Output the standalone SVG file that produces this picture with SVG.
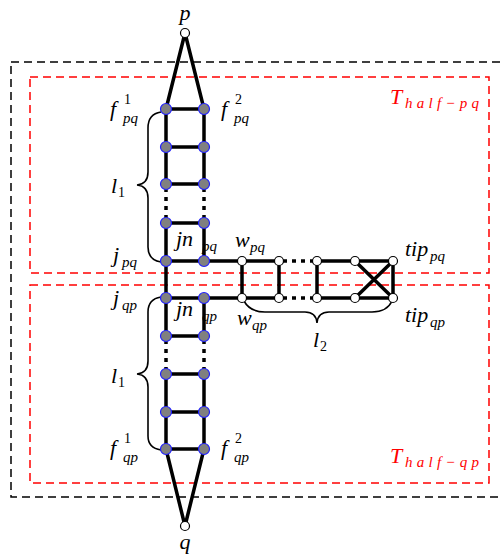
<svg xmlns="http://www.w3.org/2000/svg" width="502" height="559" viewBox="0 0 502 559">
<style>
.t{font-family:"Liberation Serif",serif;font-style:italic;font-size:22px;fill:#000}
.s{font-family:"Liberation Serif",serif;font-style:italic;font-size:15px;fill:#000}
.n{font-family:"Liberation Serif",serif;font-size:14px;fill:#000}
.r{fill:#ff0000}
.e{stroke:#000;stroke-width:3.5;fill:none}
.d{stroke:#000;stroke-width:3.5;fill:none;stroke-dasharray:4 5}
.br{stroke:#000;stroke-width:1.6;fill:none}
.g{fill:#808080;stroke:#2020ff;stroke-width:1.2}
.w{fill:#fff;stroke:#000;stroke-width:1.2}
</style>
<rect x="11" y="62" width="520" height="435" fill="none" stroke="#000" stroke-width="1.5" stroke-dasharray="8 5"/>
<rect x="30" y="77" width="459" height="196" fill="none" stroke="#ff0000" stroke-width="1.5" stroke-dasharray="8 5"/>
<rect x="30" y="285" width="459" height="198" fill="none" stroke="#ff0000" stroke-width="1.5" stroke-dasharray="8 5"/>
<g id="connectors">
<path class="e" d="M185 33 L166 109 M185 33 L204 109 M185 526 L166 449 M185 526 L204 449"/>
<path class="e" d="M166 109 V184 M204 109 V184 M166 223 V261 M204 223 V261"/>
<path class="d" d="M166 188 V221 M204 188 V221"/>
<path class="e" d="M166 109 H204 M166 147 H204 M166 184 H204 M166 223 H204"/>
<path class="e" d="M166 261 V298 M166 298 V336 M204 298 V336 M166 374 V449 M204 374 V449"/>
<path class="d" d="M166 340 V372 M204 340 V372"/>
<path class="e" d="M166 336 H204 M166 374 H204 M166 412 H204 M166 449 H204"/>
<path class="e" d="M166 261 H279 M166 298 H279 M317 261 H393 M317 298 H393"/>
<path class="d" d="M283 261 H315 M283 298 H315"/>
<path class="e" d="M242 261 V298 M279 261 V298 M317 261 V298 M393 261 V298 M355 261 L393 298 M355 298 L393 261"/>
<path class="br" d="M161 112 Q148 114 148 128 L148 172 Q148 184 137 185 Q148 186 148 198 L148 247 Q148 260 161 262"/>
<path class="br" d="M161 297 Q148 299 148 312 L148 361 Q148 373 137 374 Q148 375 148 387 L148 436 Q148 448 161 450"/>
<path class="br" d="M244 301 Q250 312 265 312 L305 312 Q316 312 317 323 Q318 312 329 312 L372 312 Q387 312 392 301"/>
</g>
<g id="p"><circle class="w" cx="185" cy="33" r="4.5"/><text class="t" x="185" y="20" text-anchor="middle">p</text></g>
<g id="q"><circle class="w" cx="185" cy="526" r="4.5"/><text class="t" x="185" y="549" text-anchor="middle">q</text></g>
<g id="f1pq"><circle class="g" cx="166" cy="109" r="5.5"/><text class="t" x="110" y="116">f</text><text class="n" x="124" y="104">1</text><text class="s" x="123" y="123">pq</text></g>
<g id="f2pq"><circle class="g" cx="204" cy="109" r="5.5"/><text class="t" x="221" y="116">f</text><text class="n" x="235" y="104">2</text><text class="s" x="234" y="123">pq</text></g>
<g id="u2"><circle class="g" cx="166" cy="147" r="5.5"/><circle class="g" cx="204" cy="147" r="5.5"/></g>
<g id="u3"><circle class="g" cx="166" cy="184" r="5.5"/><circle class="g" cx="204" cy="184" r="5.5"/></g>
<g id="u4"><circle class="g" cx="166" cy="223" r="5.5"/><circle class="g" cx="204" cy="223" r="5.5"/></g>
<g id="jpq"><circle class="g" cx="166" cy="261" r="5.5"/><text class="t" x="113" y="262">j</text><text class="s" x="122" y="267">pq</text></g>
<g id="jnpq"><circle class="g" cx="204" cy="261" r="5.5"/><text class="t" x="176" y="246">jn</text><text class="s" x="202" y="251">pq</text></g>
<g id="jqp"><circle class="g" cx="166" cy="298" r="5.5"/><text class="t" x="113" y="305">j</text><text class="s" x="122" y="310">qp</text></g>
<g id="jnqp"><circle class="g" cx="204" cy="298" r="5.5"/><text class="t" x="176" y="316">jn</text><text class="s" x="202" y="321">qp</text></g>
<g id="l2r"><circle class="g" cx="166" cy="336" r="5.5"/><circle class="g" cx="204" cy="336" r="5.5"/></g>
<g id="l3r"><circle class="g" cx="166" cy="374" r="5.5"/><circle class="g" cx="204" cy="374" r="5.5"/></g>
<g id="l4r"><circle class="g" cx="166" cy="412" r="5.5"/><circle class="g" cx="204" cy="412" r="5.5"/></g>
<g id="f1qp"><circle class="g" cx="166" cy="449" r="5.5"/><text class="t" x="110" y="455">f</text><text class="n" x="124" y="443">1</text><text class="s" x="123" y="462">qp</text></g>
<g id="f2qp"><circle class="g" cx="204" cy="449" r="5.5"/><text class="t" x="221" y="455">f</text><text class="n" x="235" y="443">2</text><text class="s" x="234" y="462">qp</text></g>
<g id="wpq"><circle class="w" cx="242" cy="261" r="4.5"/><text class="t" x="235" y="247">w</text><text class="s" x="250" y="252">pq</text></g>
<g id="wqp"><circle class="w" cx="242" cy="298" r="4.5"/><text class="t" x="237" y="325">w</text><text class="s" x="252" y="330">qp</text></g>
<g id="a1"><circle class="w" cx="279" cy="261" r="4.5"/><circle class="w" cx="279" cy="298" r="4.5"/></g>
<g id="a2"><circle class="w" cx="317" cy="261" r="4.5"/><circle class="w" cx="317" cy="298" r="4.5"/></g>
<g id="a3"><circle class="w" cx="355" cy="261" r="4.5"/><circle class="w" cx="355" cy="298" r="4.5"/></g>
<g id="tippq"><circle class="w" cx="393" cy="261" r="4.5"/><text class="t" x="405" y="256">tip</text><text class="s" x="430" y="261">pq</text></g>
<g id="tipqp"><circle class="w" cx="393" cy="298" r="4.5"/><text class="t" x="405" y="322">tip</text><text class="s" x="430" y="327">qp</text></g>
<g id="labels">
<text class="t" x="111" y="193">l</text><text class="n" x="118" y="197">1</text>
<text class="t" x="111" y="383">l</text><text class="n" x="118" y="387">1</text>
<text class="t" x="313" y="347">l</text><text class="n" x="320" y="351">2</text>
<text class="t r" x="390" y="104">T</text><text class="s r" x="405" y="108" textLength="74">half−pq</text>
<text class="t r" x="390" y="463">T</text><text class="s r" x="405" y="467" textLength="74">half−qp</text>
</g>
</svg>
